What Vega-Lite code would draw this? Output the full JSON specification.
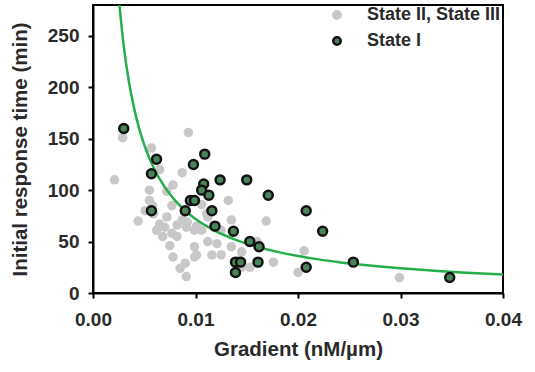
{
  "$schema": "https://vega.github.io/schema/vega-lite/v6.json",
  "width": 410,
  "height": 288,
  "autosize": {"type": "none"},
  "padding": {"left": 93, "top": 5, "right": 32, "bottom": 79},
  "background": "white",
  "config": {
    "font": "Liberation Sans",
    "view": {"stroke": "black", "strokeWidth": 2},
    "axis": {
      "domainColor": "black", "domainWidth": 2, "tickColor": "black", "tickWidth": 2, "tickSize": 5,
      "grid": false, "labelFlush": false, "labelFont": "Liberation Sans", "labelFontSize": 19, "labelFontWeight": "bold", "labelColor": "#2a2a2a",
      "titleFont": "Liberation Sans", "titleFontSize": 20.5, "titleFontWeight": "bold", "titleColor": "#2a2a2a"
    }
  },
  "datasets": {
    "pts": [
      {"g": 0.0029, "t": 151, "state": "State II, State III"},
      {"g": 0.0021, "t": 110, "state": "State II, State III"},
      {"g": 0.0093, "t": 156, "state": "State II, State III"},
      {"g": 0.0057, "t": 141, "state": "State II, State III"},
      {"g": 0.0065, "t": 120, "state": "State II, State III"},
      {"g": 0.0087, "t": 117, "state": "State II, State III"},
      {"g": 0.0078, "t": 105, "state": "State II, State III"},
      {"g": 0.0055, "t": 100, "state": "State II, State III"},
      {"g": 0.0072, "t": 99, "state": "State II, State III"},
      {"g": 0.0055, "t": 90, "state": "State II, State III"},
      {"g": 0.0077, "t": 85, "state": "State II, State III"},
      {"g": 0.0051, "t": 80, "state": "State II, State III"},
      {"g": 0.0072, "t": 74, "state": "State II, State III"},
      {"g": 0.0044, "t": 70, "state": "State II, State III"},
      {"g": 0.0087, "t": 71, "state": "State II, State III"},
      {"g": 0.0062, "t": 61, "state": "State II, State III"},
      {"g": 0.007, "t": 64, "state": "State II, State III"},
      {"g": 0.0077, "t": 58, "state": "State II, State III"},
      {"g": 0.0091, "t": 64, "state": "State II, State III"},
      {"g": 0.0099, "t": 61, "state": "State II, State III"},
      {"g": 0.0082, "t": 55, "state": "State II, State III"},
      {"g": 0.0075, "t": 46, "state": "State II, State III"},
      {"g": 0.0099, "t": 45, "state": "State II, State III"},
      {"g": 0.0078, "t": 35, "state": "State II, State III"},
      {"g": 0.0099, "t": 35, "state": "State II, State III"},
      {"g": 0.009, "t": 29, "state": "State II, State III"},
      {"g": 0.0085, "t": 24, "state": "State II, State III"},
      {"g": 0.0091, "t": 16, "state": "State II, State III"},
      {"g": 0.0059, "t": 77, "state": "State II, State III"},
      {"g": 0.0132, "t": 90, "state": "State II, State III"},
      {"g": 0.0169, "t": 70, "state": "State II, State III"},
      {"g": 0.0135, "t": 71, "state": "State II, State III"},
      {"g": 0.0106, "t": 61, "state": "State II, State III"},
      {"g": 0.0101, "t": 65, "state": "State II, State III"},
      {"g": 0.0112, "t": 74, "state": "State II, State III"},
      {"g": 0.0125, "t": 61, "state": "State II, State III"},
      {"g": 0.0112, "t": 50, "state": "State II, State III"},
      {"g": 0.0121, "t": 48, "state": "State II, State III"},
      {"g": 0.0101, "t": 37, "state": "State II, State III"},
      {"g": 0.0116, "t": 37, "state": "State II, State III"},
      {"g": 0.0125, "t": 37, "state": "State II, State III"},
      {"g": 0.0135, "t": 45, "state": "State II, State III"},
      {"g": 0.0143, "t": 32, "state": "State II, State III"},
      {"g": 0.0153, "t": 25, "state": "State II, State III"},
      {"g": 0.0145, "t": 40, "state": "State II, State III"},
      {"g": 0.0176, "t": 30, "state": "State II, State III"},
      {"g": 0.0206, "t": 41, "state": "State II, State III"},
      {"g": 0.02, "t": 20, "state": "State II, State III"},
      {"g": 0.0299, "t": 15, "state": "State II, State III"},
      {"g": 0.0106, "t": 86, "state": "State II, State III"},
      {"g": 0.0111, "t": 77, "state": "State II, State III"},
      {"g": 0.0065, "t": 67, "state": "State II, State III"},
      {"g": 0.0082, "t": 66, "state": "State II, State III"},
      {"g": 0.0145, "t": 25, "state": "State II, State III"},
      {"g": 0.016, "t": 50, "state": "State II, State III"},
      {"g": 0.0092, "t": 69, "state": "State II, State III"},
      {"g": 0.0068, "t": 55, "state": "State II, State III"},
      {"g": 0.0058, "t": 85, "state": "State II, State III"},
      {"g": 0.003, "t": 160, "state": "State I"},
      {"g": 0.0062, "t": 130, "state": "State I"},
      {"g": 0.0057, "t": 116, "state": "State I"},
      {"g": 0.0057, "t": 80, "state": "State I"},
      {"g": 0.009, "t": 80, "state": "State I"},
      {"g": 0.0095, "t": 90, "state": "State I"},
      {"g": 0.0099, "t": 90, "state": "State I"},
      {"g": 0.0098, "t": 125, "state": "State I"},
      {"g": 0.0109, "t": 135, "state": "State I"},
      {"g": 0.0108, "t": 106, "state": "State I"},
      {"g": 0.0106, "t": 100, "state": "State I"},
      {"g": 0.0113, "t": 95, "state": "State I"},
      {"g": 0.0116, "t": 80, "state": "State I"},
      {"g": 0.0119, "t": 65, "state": "State I"},
      {"g": 0.0124, "t": 110, "state": "State I"},
      {"g": 0.0137, "t": 60, "state": "State I"},
      {"g": 0.0139, "t": 30, "state": "State I"},
      {"g": 0.0144, "t": 30, "state": "State I"},
      {"g": 0.0139, "t": 20, "state": "State I"},
      {"g": 0.015, "t": 110, "state": "State I"},
      {"g": 0.0153, "t": 50, "state": "State I"},
      {"g": 0.0162, "t": 45, "state": "State I"},
      {"g": 0.0161, "t": 30, "state": "State I"},
      {"g": 0.0171, "t": 95, "state": "State I"},
      {"g": 0.0208, "t": 80, "state": "State I"},
      {"g": 0.0208, "t": 25, "state": "State I"},
      {"g": 0.0224, "t": 60, "state": "State I"},
      {"g": 0.0254, "t": 30, "state": "State I"},
      {"g": 0.0348, "t": 15, "state": "State I"}
    ],
    "curve": [
      {"g": 0.0025, "t": 288}, {"g": 0.003, "t": 240}, {"g": 0.0035, "t": 205.7}, {"g": 0.004, "t": 180},
      {"g": 0.0045, "t": 160}, {"g": 0.005, "t": 144}, {"g": 0.006, "t": 120}, {"g": 0.007, "t": 102.9},
      {"g": 0.008, "t": 90}, {"g": 0.009, "t": 80}, {"g": 0.01, "t": 72}, {"g": 0.011, "t": 65.5},
      {"g": 0.012, "t": 60}, {"g": 0.013, "t": 55.4}, {"g": 0.014, "t": 51.4}, {"g": 0.016, "t": 45},
      {"g": 0.018, "t": 40}, {"g": 0.02, "t": 36}, {"g": 0.022, "t": 32.7}, {"g": 0.024, "t": 30},
      {"g": 0.026, "t": 27.7}, {"g": 0.028, "t": 25.7}, {"g": 0.03, "t": 24}, {"g": 0.032, "t": 22.5},
      {"g": 0.034, "t": 21.2}, {"g": 0.036, "t": 20}, {"g": 0.038, "t": 18.9}, {"g": 0.04, "t": 18}
    ]
  },
  "encoding": {
    "x": {"field": "g", "type": "quantitative", "title": "Gradient (nM/µm)",
      "scale": {"domain": [0, 0.04], "nice": false, "zero": false},
      "axis": {"values": [0, 0.01, 0.02, 0.03, 0.04], "format": ".2f", "labelPadding": 12, "titlePadding": 10}},
    "y": {"field": "t", "type": "quantitative", "title": "Initial response time (min)",
      "scale": {"domain": [0, 280], "nice": false},
      "axis": {"values": [0, 50, 100, 150, 200, 250], "labelPadding": 9, "titlePadding": 17}}
  },
  "layer": [
    {
      "data": {"name": "pts"},
      "transform": [{"filter": "datum.state === 'State II, State III'"}],
      "mark": {"type": "point", "filled": true, "opacity": 1, "size": 90, "strokeWidth": 0},
      "encoding": {
        "fill": {"field": "state", "type": "nominal",
          "scale": {"domain": ["State II, State III", "State I"], "range": ["#c8c8c8", "#4a8559"]},
          "legend": {"title": null, "orient": "none", "legendX": 235, "legendY": 1, "symbolSize": 55,
            "symbolStrokeWidth": 2.5, "labelFontSize": 18, "labelFontWeight": "bold", "labelColor": "#2a2a2a",
            "labelFont": "Liberation Sans", "labelOffset": 21, "rowPadding": 8, "symbolType": "circle", "padding": 0}},
        "stroke": {"field": "state", "type": "nominal",
          "scale": {"domain": ["State II, State III", "State I"], "range": ["#c8c8c8", "#111111"]}}
      }
    },
    {
      "data": {"name": "curve"},
      "mark": {"type": "line", "color": "#25ae4a", "strokeWidth": 2.5, "clip": true, "interpolate": "monotone"},
      "encoding": {}
    },
    {
      "data": {"name": "pts"},
      "transform": [{"filter": "datum.state === 'State I'"}],
      "mark": {"type": "point", "filled": true, "opacity": 1, "size": 80, "strokeWidth": 2.5},
      "encoding": {
        "fill": {"field": "state", "type": "nominal"},
        "stroke": {"field": "state", "type": "nominal"}
      }
    }
  ]
}
